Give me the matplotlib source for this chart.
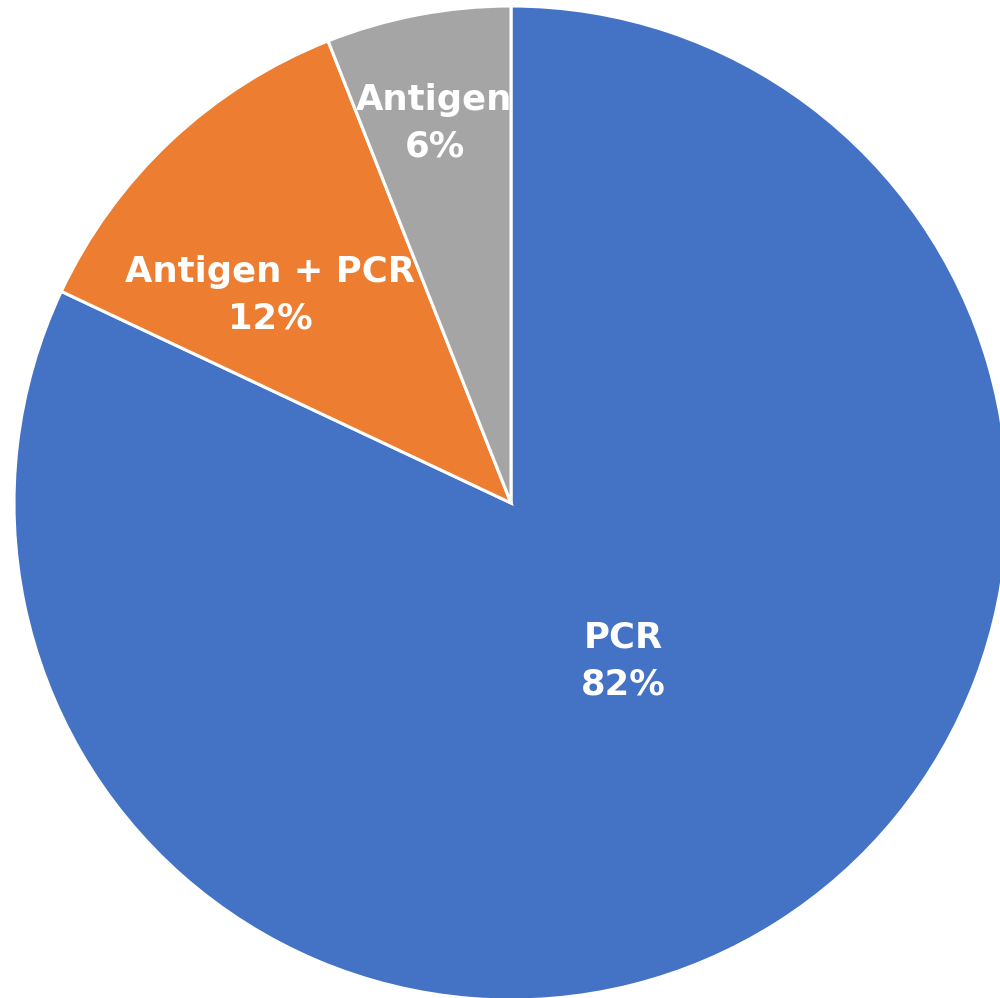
import numpy as np
import matplotlib.pyplot as plt

labels = ["PCR", "Antigen + PCR", "Antigen"]
shares = [82, 12, 6]
colors = ["#4472C4", "#ED7D31", "#A5A5A5"]
# how far from centre each label sits (fraction of radius) and angle nudge
label_dist = [0.39, 0.64, 0.78]
label_nudge = [3.0, 6.0, 0.6]

fig = plt.figure(figsize=(10, 9.98), dpi=100)
ax = fig.add_axes([0, 0, 1, 1])

wedges, _ = ax.pie(shares, colors=colors, startangle=90, counterclock=False,
                   radius=1.0, wedgeprops=dict(edgecolor="white", linewidth=2.2))

for w, lab, pct, d, nudge in zip(wedges, labels, shares, label_dist, label_nudge):
    mid = np.deg2rad((w.theta1 + w.theta2) / 2 + nudge)
    ax.text(d * np.cos(mid), d * np.sin(mid), f"{lab}\n{pct}%",
            ha="center", va="center", color="white", fontsize=25.5,
            fontweight="bold", linespacing=1.45)

ax.set_aspect("auto")
ax.set_xlim(-511 / 497, 489 / 497)
ax.set_ylim(-495 / 497, 503 / 497)
ax.axis("off")

fig.savefig("out.png", dpi=100)
